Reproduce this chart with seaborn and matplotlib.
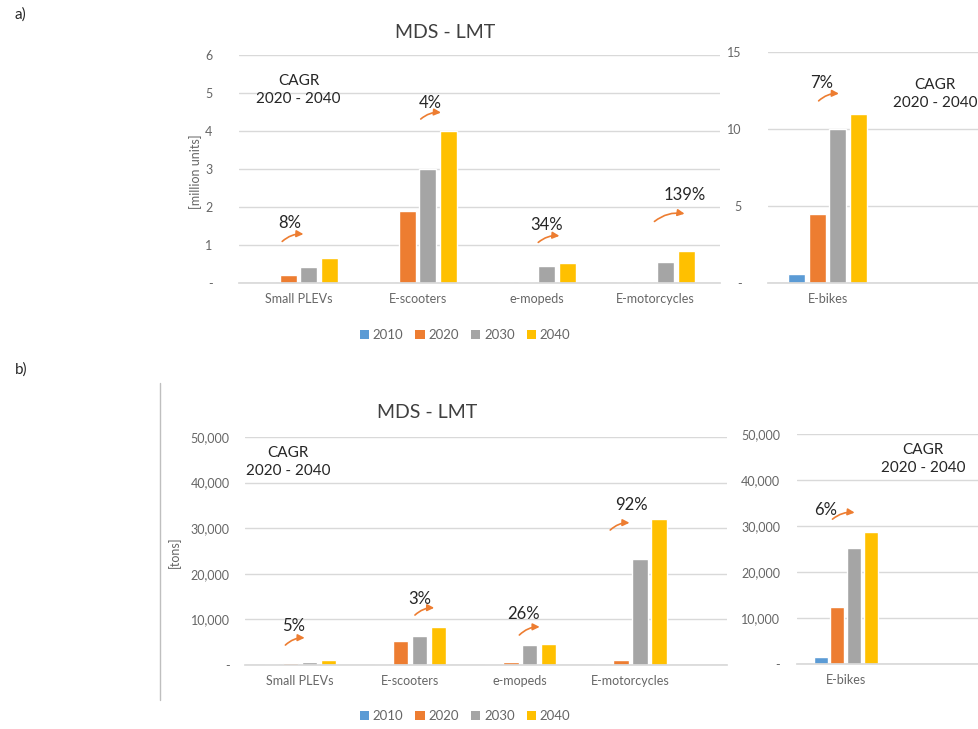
import pandas as pd
import matplotlib.pyplot as plt
import seaborn as sns
from matplotlib.ticker import FuncFormatter
from matplotlib.transforms import Affine2D
from matplotlib.patches import Patch
from matplotlib.lines import Line2D

# data
years = ['2010', '2020', '2030', '2040']
colors = ['#5B9BD5', '#ED7D31', '#A5A5A5', '#FFC000']
cats = ['Small PLEVs', 'E-scooters', 'e-mopeds', 'E-motorcycles']

units_small = [0, 0.2, 0.42, 0.65]
units_scoot = [0, 1.9, 3.0, 4.0]
units_moped = [0, 0.03, 0.45, 0.52]
units_moto = [0, 0, 0.55, 0.83]
units_ebike = [0.6, 4.5, 10.0, 11.0]

tons_small = [0, 400, 700, 1200]
tons_scoot = [0, 5200, 6400, 8300]
tons_moped = [0, 600, 4400, 4700]
tons_moto = [0, 1100, 23300, 32000]
tons_ebike = [1500, 12300, 25200, 28800]

cagr_units = ['8%', '4%', '34%', '139%']
cagr_units_ebike = '7%'
cagr_tons = ['5%', '3%', '26%', '92%']
cagr_tons_ebike = '6%'


def long_df(names, rows):
    recs = []
    for n, r in zip(names, rows):
        for y, v in zip(years, r):
            recs.append({'cat': n, 'year': y, 'val': v})
    return pd.DataFrame(recs)


units = long_df(cats, [units_small, units_scoot, units_moped, units_moto])
units_eb = long_df(['E-bikes'], [units_ebike])
tons = long_df(cats, [tons_small, tons_scoot, tons_moped, tons_moto])
tons_eb = long_df(['E-bikes'], [tons_ebike])

# %%

sns.set_theme(style='white')
plt.rcParams['font.family'] = ['Lato', 'DejaVu Sans']

W, H = 979, 729
fig = plt.figure(figsize=(W / 100, H / 100), dpi=100)


def rect(x0, y0, x1, y1):
    return [x0 / W, 1 - y1 / H, (x1 - x0) / W, (y1 - y0) / H]


fmt = FuncFormatter(lambda v, p: '-' if v == 0 else f'{v:,.0f}')


def draw(ax, df, ymax, step, xmax, pad):
    sns.barplot(data=df, x='cat', y='val', hue='year', hue_order=years,
                palette=colors, width=0.69, gap=0.17, legend=False, ax=ax,
                saturation=1)
    ax.set_xlim(-0.5, xmax)
    ax.set_ylim(0, ymax)
    ax.set_yticks(range(0, int(ymax) + 1, step))
    ax.yaxis.set_major_formatter(fmt)
    ax.grid(axis='y', color='#D9D9D9', linewidth=1)
    ax.set_axisbelow(True)
    for s in ['top', 'left', 'right']:
        ax.spines[s].set_visible(False)
    ax.spines['bottom'].set_color('#D9D9D9')
    ax.tick_params(axis='y', length=0, pad=pad, labelsize=9, labelcolor='#666666')
    ax.tick_params(axis='x', length=0, pad=7, labelsize=9, labelcolor='#666666')
    ax.set_xlabel('')
    ax.set_ylabel('')


def pct(ax, x, y, txt, tail, head):
    ax.text(x, y, txt, ha='center', va='center', fontsize=12, color='#262626')
    t1 = ax.transData + Affine2D().translate(tail[0], -tail[1])
    t2 = ax.transData + Affine2D().translate(head[0], -head[1])
    ax.annotate('', xy=(x, y), xycoords=t2, xytext=(x, y), textcoords=t1,
                arrowprops=dict(arrowstyle='-|>', color='#ED7D31', lw=1.2,
                                mutation_scale=10,
                                connectionstyle='arc3,rad=-0.25'))


def cagr(ax, x, y):
    ax.text(x, y, 'CAGR\n2020 - 2040', ha='center', va='center',
            fontsize=11, color='#262626', linespacing=1.3)


# panel a
a1 = fig.add_axes(rect(239, 55, 720, 283))
draw(a1, units, 6, 1, 3.54, 19)
a2 = fig.add_axes(rect(768, 52, 979, 283))
draw(a2, units_eb, 15, 5, 1.27, 19)

pct(a1, -0.07, 1.57, cagr_units[0], (-10, 20), (16, 11))
pct(a1, 1.11, 4.74, cagr_units[1], (-12, 18), (13, 10))
pct(a1, 2.08, 1.52, cagr_units[2], (-10, 19), (16, 11))
pct(a1, 3.24, 2.31, cagr_units[3], (-32, 28), (3, 19))
pct(a2, -0.05, 13.0, cagr_units_ebike, (-5, 20), (20, 11))
cagr(a1, 0.0, 5.08)
cagr(a2, 0.9, 12.27)

fig.text(445 / W, 1 - 32 / H, 'MDS - LMT', ha='center', va='center',
         fontsize=14, color='#404040')
fig.text(196 / W, 1 - 172 / H, '[million units]', ha='center', va='center',
         rotation=90, fontsize=9, color='#666666')
fig.text(15 / W, 1 - 15 / H, 'a)', ha='left', va='center', fontsize=11, color='#262626')

# panel b
b1 = fig.add_axes(rect(245, 437, 727, 665))
draw(b1, tons, 50000, 10000, 3.88, 11)
b2 = fig.add_axes(rect(797, 434, 979, 664))
draw(b2, tons_eb, 50000, 10000, 1.36, 12)

pct(b1, -0.06, 8550, cagr_tons[0], (-10, 21), (14, 12))
pct(b1, 1.09, 14470, cagr_tons[1], (-7, 18), (17, 9))
pct(b1, 2.03, 11180, cagr_tons[2], (-6, 23), (19, 13))
pct(b1, 3.01, 35090, cagr_tons[3], (-23, 27), (1, 18))
pct(b2, -0.21, 33480, cagr_tons_ebike, (5, 11), (32, 3))
cagr(b1, -0.11, 44520)
cagr(b2, 0.79, 44565)

fig.text(427 / W, 1 - 412 / H, 'MDS - LMT', ha='center', va='center',
         fontsize=14, color='#404040')
fig.text(174 / W, 1 - 552 / H, '[tons]', ha='center', va='center',
         rotation=90, fontsize=9, color='#666666')
fig.text(15 / W, 1 - 370 / H, 'b)', ha='left', va='center', fontsize=11, color='#262626')
fig.add_artist(Line2D([160 / W, 160 / W], [1 - 383 / H, 1 - 700 / H],
                      color='#BFBFBF', lw=1))

# legends
handles = [Patch(facecolor=c, edgecolor='none') for c in colors]
for yl in [335, 716]:
    fig.legend(handles, years, loc='center', bbox_to_anchor=(465 / W, 1 - yl / H),
               ncol=4, frameon=False, fontsize=9.5, handlelength=0.7,
               handleheight=0.7, handletextpad=0.3, columnspacing=0.9,
               labelcolor='#666666')

fig.savefig('out.png', dpi=100)
